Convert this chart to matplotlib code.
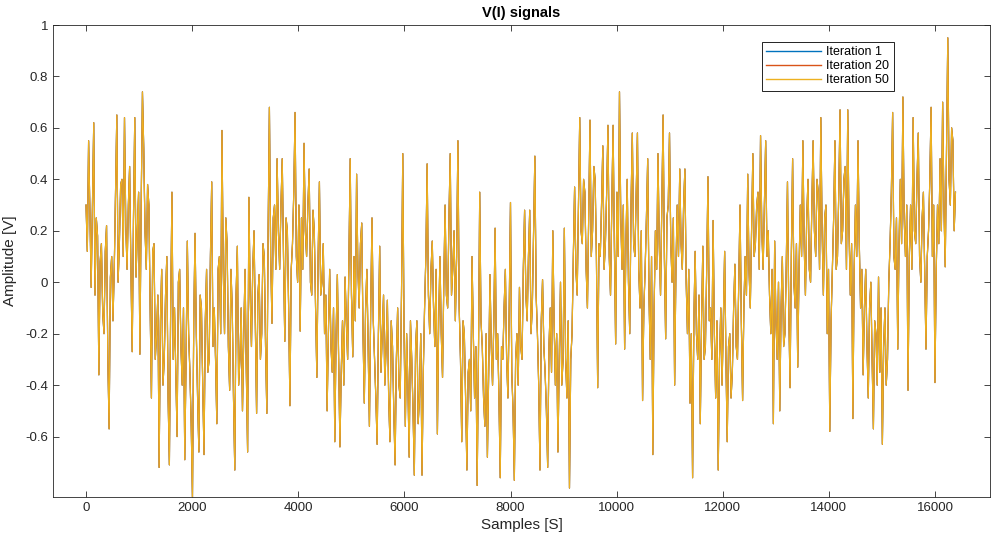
import numpy as np
import matplotlib
matplotlib.use('Agg')
import matplotlib.pyplot as plt

plt.rcParams['font.family'] = ['Liberation Sans', 'DejaVu Sans']

# amplitude, one row per ~1000 samples
amplitude = [
    0.30, 0.12, 0.55, 0.28, -0.02, 0.31, 0.62, -0.05, 0.25, 0.18, -0.36, 0.08, 0.15, -0.12, -0.20, 0.12, 0.22, -0.30, -0.57, 0.02, 0.10, -0.15, 0.05, 0.35, 0.65, 0.00, 0.15, 0.38, 0.40, 0.10, 0.64, 0.22, 0.05, 0.30, 0.45, 0.05, -0.27, 0.25, 0.64, 0.02, 0.20, 0.35, -0.28, 0.30, 0.74,
    0.52, 0.20, 0.05, 0.38, 0.30, -0.10, -0.45, 0.12, 0.15, -0.30, -0.20, -0.05, -0.72, -0.15, 0.05, -0.40, -0.30, -0.05, 0.10, -0.45, -0.71, -0.10, 0.35, -0.30, -0.10, -0.35, -0.60, 0.00, 0.05, -0.25, -0.40, -0.10, -0.69, -0.30, 0.16, -0.20, -0.35, -0.55, -0.84, -0.15, 0.19,
    -0.20, -0.45, -0.66, -0.05, -0.10, -0.40, -0.67, -0.15, 0.05, -0.35, -0.30, 0.10, 0.39, -0.25, -0.10, -0.30, -0.55, 0.05, 0.10, -0.20, 0.59, 0.05, -0.20, 0.25, 0.15, -0.25, -0.42, 0.05, -0.10, -0.45, -0.73, -0.05, 0.14, -0.40, -0.30, -0.10, -0.50, -0.20, 0.05, -0.35, -0.66,
    0.33, -0.05, -0.25, 0.05, 0.20, -0.15, -0.51, -0.05, 0.03, -0.30, -0.20, 0.15, 0.10, -0.25, -0.51, 0.20, 0.68, 0.10, -0.16, 0.25, 0.30, 0.05, 0.48, 0.20, 0.05, 0.30, 0.48, 0.10, -0.23, 0.25, 0.20, -0.10, -0.48, 0.05, 0.15, 0.35, 0.66, 0.10, 0.00, 0.30, -0.19,
    0.25, 0.05, 0.54, 0.20, 0.10, 0.30, 0.44, 0.00, -0.05, 0.28, 0.20, -0.10, -0.37, 0.10, 0.39, -0.05, 0.00, 0.15, -0.20, -0.05, -0.50, -0.20, 0.05, -0.25, -0.35, -0.10, -0.62, -0.20, 0.03, -0.30, -0.64, -0.35, -0.15, -0.40, 0.02, -0.15, -0.30, 0.10, 0.48, -0.05, -0.29,
    0.10, -0.15, 0.42, 0.05, -0.10, 0.15, 0.23, -0.20, -0.47, -0.10, 0.05, -0.25, -0.56, -0.10, 0.25, -0.15, -0.30, -0.45, -0.63, -0.20, 0.14, -0.35, -0.20, -0.05, -0.40, -0.25, -0.07, -0.45, -0.62, -0.15, -0.25, -0.50, -0.71, -0.30, -0.10, -0.40, -0.45, -0.05, 0.50, -0.20, -0.56,
    -0.20, -0.40, -0.68, -0.15, -0.30, -0.50, -0.75, -0.25, -0.15, -0.55, -0.45, -0.20, -0.75, -0.35, -0.10, 0.10, 0.46, -0.05, -0.20, 0.05, 0.16, -0.10, -0.25, 0.05, -0.59, -0.15, 0.10, -0.20, -0.37, 0.00, 0.30, -0.05, -0.10, 0.25, 0.50, -0.05, 0.05, 0.20, -0.15, 0.10, 0.55,
    -0.10, -0.30, -0.62, -0.15, -0.20, -0.45, -0.73, -0.35, -0.30, -0.50, 0.10, -0.20, -0.45, -0.25, -0.79, -0.30, 0.35, -0.15, -0.25, -0.45, -0.56, -0.20, -0.68, -0.35, 0.03, -0.25, -0.40, -0.15, 0.21, -0.30, -0.20, -0.45, -0.76, -0.25, -0.30, -0.10, 0.05, -0.30, -0.45, -0.10, 0.31,
    -0.35, -0.50, -0.77, -0.30, -0.20, -0.40, -0.02, -0.25, -0.30, 0.05, 0.28, -0.05, -0.15, 0.10, 0.28, -0.20, -0.10, 0.20, 0.49, -0.05, -0.20, -0.40, -0.73, -0.15, 0.01, -0.25, -0.35, -0.50, -0.72, -0.25, -0.10, -0.35, 0.20, -0.15, -0.40, -0.20, -0.66, -0.30, 0.00, -0.40, -0.30,
    0.21, -0.30, -0.45, -0.15, -0.80, -0.30, -0.20, 0.10, 0.37, 0.05, -0.05, 0.30, 0.64, 0.20, 0.15, 0.40, 0.35, 0.05, -0.10, 0.25, 0.63, 0.10, 0.20, 0.45, 0.40, 0.10, -0.41, 0.15, 0.10, 0.30, 0.53, 0.05, 0.15, 0.35, 0.61, 0.10, -0.05, 0.30, 0.61, 0.15, -0.24,
    0.35, 0.10, 0.74, 0.25, 0.05, 0.30, -0.26, 0.15, 0.40, 0.00, -0.20, 0.30, 0.58, 0.15, 0.10, 0.35, 0.58, 0.05, -0.10, 0.20, -0.46, -0.10, 0.05, 0.25, 0.48, -0.05, -0.30, 0.10, -0.67, -0.10, 0.20, 0.05, 0.50, 0.15, -0.05, 0.30, 0.65, 0.10, -0.22, 0.25, 0.30,
    0.58, 0.15, 0.00, 0.25, -0.40, 0.05, 0.30, 0.10, 0.44, 0.15, 0.05, 0.30, 0.44, 0.00, -0.20, 0.05, -0.47, -0.20, -0.76, -0.15, 0.12, -0.20, -0.30, -0.05, -0.55, -0.15, 0.14, -0.30, -0.25, 0.05, 0.41, -0.15, -0.10, -0.30, 0.24, -0.20, -0.45, -0.15, -0.73, -0.30, -0.10,
    -0.40, -0.15, 0.12, -0.30, -0.62, -0.25, -0.20, -0.45, -0.35, -0.10, 0.07, -0.25, -0.30, 0.00, 0.30, -0.15, -0.46, -0.10, 0.10, -0.05, 0.42, 0.05, -0.10, 0.20, 0.50, 0.10, 0.15, 0.30, 0.35, 0.05, 0.57, 0.20, 0.05, 0.30, 0.55, 0.10, 0.20, -0.05, -0.20, 0.05, -0.55,
    0.16, -0.15, -0.30, 0.00, -0.50, -0.10, 0.10, -0.25, -0.20, 0.05, 0.39, -0.10, -0.41, 0.10, 0.48, 0.00, -0.10, 0.15, -0.33, 0.05, 0.30, 0.10, 0.55, 0.15, -0.05, 0.25, 0.40, 0.05, 0.00, 0.30, 0.55, 0.20, 0.10, 0.40, 0.35, 0.05, 0.64, 0.20, -0.05, 0.25, 0.30,
    -0.20, 0.05, -0.58, -0.15, 0.05, 0.25, 0.55, 0.05, 0.10, 0.35, 0.67, 0.15, 0.20, 0.40, 0.45, 0.05, 0.67, 0.20, -0.05, 0.15, -0.53, 0.05, 0.30, 0.10, 0.55, 0.15, -0.10, 0.05, -0.36, -0.10, 0.05, -0.25, -0.45, -0.10, 0.00, -0.30, -0.57, -0.15, -0.20, -0.40, 0.02,
    -0.35, -0.10, -0.63, -0.25, -0.10, -0.40, -0.30, 0.00, 0.15, 0.35, 0.66, 0.10, 0.05, 0.25, -0.26, 0.15, 0.40, 0.15, 0.72, 0.25, 0.10, 0.30, -0.42, 0.10, 0.30, 0.05, 0.64, 0.20, 0.15, 0.40, 0.58, 0.10, 0.00, 0.25, 0.35, 0.05, -0.26, 0.10, 0.20, 0.40, 0.68,
    0.10, 0.30, -0.39, 0.05, 0.30, 0.15, 0.48, 0.20, 0.70, 0.30, 0.06, 0.50, 0.95, 0.40, 0.30, 0.60, 0.55, 0.20, 0.35,
]

# the three iterations lie on top of each other in the picture
sig_iter1 = amplitude
sig_iter20 = amplitude
sig_iter50 = amplitude
n_samples = 16384
labels = ['Iteration 1', 'Iteration 20', 'Iteration 50']
colors = ['#0072BD', '#D95319', '#EDB120']

samples = np.linspace(1, n_samples, len(amplitude))

fig = plt.figure(figsize=(9.92, 5.40), dpi=100)
ax = fig.add_axes([0.0534, 0.0796, 0.9446, 0.8741])

for sig, lab, col in zip([sig_iter1, sig_iter20, sig_iter50], labels, colors):
    ax.plot(samples, sig, color=col, lw=0.85, label=lab)

ax.set_xlim(-622, 17035)
ax.set_ylim(-0.835, 1.0)
ax.set_xticks(np.arange(0, 16001, 2000))
ax.set_yticks([-0.6, -0.4, -0.2, 0, 0.2, 0.4, 0.6, 0.8, 1])
ax.set_yticklabels(['-0.6', '-0.4', '-0.2', '0', '0.2', '0.4', '0.6', '0.8', '1'])

txt = '#262626'
ax.tick_params(direction='in', top=True, right=True, length=4, width=0.6,
               colors=txt, labelsize=9.5)
for s in ax.spines.values():
    s.set_color(txt)
    s.set_linewidth(0.6)

ax.set_xlabel('Samples [S]', fontsize=11, color=txt, labelpad=3)
ax.set_ylabel('Amplitude [V]', fontsize=11, color=txt, labelpad=6)
ax.set_title('V(I) signals', fontsize=10.5, fontweight='bold', color='black', pad=6)

leg = ax.legend(loc='upper right', bbox_to_anchor=(0.904, 0.977), fontsize=9,
                fancybox=False, framealpha=1, edgecolor='black',
                handlelength=4.4, borderpad=0.35, labelspacing=0.15,
                handletextpad=0.4)
leg.get_frame().set_linewidth(0.6)
for line in leg.get_lines():
    line.set_linewidth(1.0)

fig.savefig('out.png', dpi=100, facecolor='white')
